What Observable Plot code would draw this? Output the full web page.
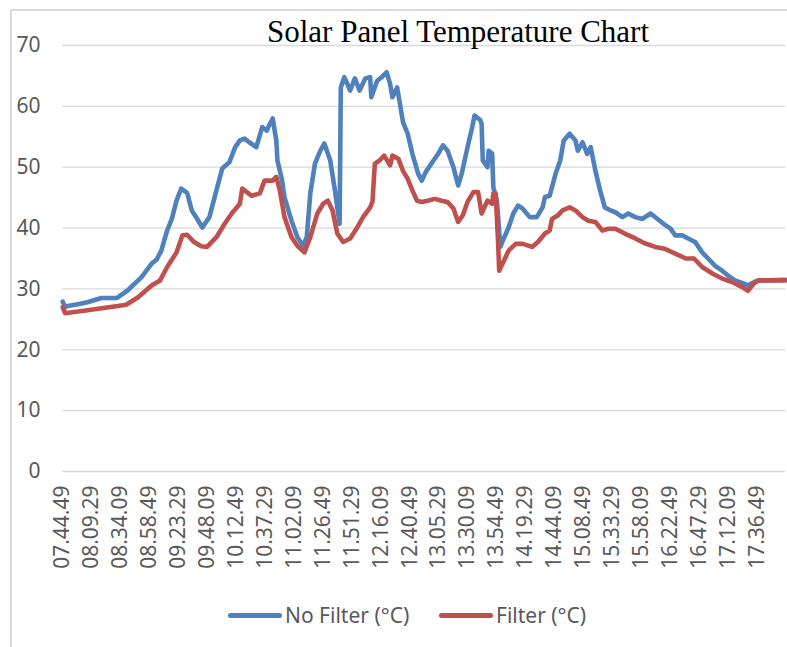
<!DOCTYPE html>
<html>
<head>
<meta charset="utf-8">
<script src="https://cdn.jsdelivr.net/npm/d3@7"></script>
<script src="https://cdn.jsdelivr.net/npm/@observablehq/plot@0.6"></script>
<style>
  html, body { margin: 0; padding: 0; background: #fff; }
  #wrap { position: relative; width: 787px; height: 647px; overflow: hidden; background: #fff; }
  #frame { position: absolute; left: 10px; top: 9px; width: 820px; height: 700px; border: 2px solid #d9d9d9; box-sizing: border-box; }
  #chart { position: absolute; left: 0; top: 0; }
  #title { position: absolute; left: 0; width: 916px; top: 14px; text-align: center; font-family: "Liberation Serif", "Times New Roman", serif; font-size: 31px; color: #000; white-space: nowrap; }
  #legend { position: absolute; top: 600px; left: 0; width: 787px; height: 30px; font-family: "Noto Sans", sans-serif; font-size: 21px; color: #595959; }
  .item { position: absolute; top: 0; display: flex; align-items: center; height: 30px; white-space: nowrap; }
  .sw { width: 54px; height: 5px; border-radius: 3px; margin-right: 3px; }
</style>
</head>
<body>
<div id="wrap">
  <div id="frame"></div>
  <div id="chart"></div>
  <div id="title">Solar Panel Temperature Chart</div>
  <div id="legend"></div>
</div>
<script>
// ---- Data ----
const seriesNames = ["No Filter (°C)", "Filter (°C)"];
const seriesColors = ["#4F81BD", "#C0504D"];

const tickLabels = ["07.44.49","08.09.29","08.34.09","08.58.49","09.23.29","09.48.09","10.12.49","10.37.29","11.02.09","11.26.49","11.51.29","12.16.09","12.40.49","13.05.29","13.30.09","13.54.49","14.19.29","14.44.09","15.08.49","15.33.29","15.58.09","16.22.49","16.47.29","17.12.09","17.36.49"];

const yTicks = [0, 10, 20, 30, 40, 50, 60, 70];

const timeNoFilter = ["07:45","07:47","07:49","07:58","08:06","08:18","08:31","08:40","08:52","09:01","09:05","09:09","09:14","09:18","09:22","09:26","09:31","09:35","09:39","09:44","09:50","09:56","10:01","10:07","10:12","10:16","10:20","10:24","10:30","10:35","10:39","10:41","10:44","10:47","10:48","10:52","10:54","11:00","11:05","11:10","11:13","11:16","11:20","11:24","11:28","11:33","11:37","11:41","11:42","11:45","11:50","11:54","11:58","12:03","12:07","12:08","12:13","12:17","12:21","12:24","12:26","12:30","12:32","12:35","12:39","12:43","12:48","12:51","12:55","13:01","13:05","13:09","13:13","13:18","13:22","13:25","13:30","13:34","13:36","13:41","13:42","13:43","13:47","13:48","13:51","13:52","13:55","13:58","14:00","14:05","14:09","14:13","14:17","14:23","14:29","14:34","14:36","14:40","14:45","14:49","14:52","14:57","15:02","15:04","15:08","15:12","15:15","15:19","15:23","15:27","15:32","15:36","15:42","15:47","15:53","15:59","16:06","16:12","16:17","16:23","16:27","16:33","16:38","16:44","16:50","16:55","17:01","17:07","17:12","17:18","17:25","17:29","17:34","17:38","17:46","18:01"];
const noFilter = [27.9,27.0,27.2,27.5,27.8,28.5,28.5,29.7,31.9,34.2,34.8,36.3,39.6,41.5,44.5,46.5,45.8,42.9,41.7,40.1,41.8,46.2,49.8,50.8,53.3,54.4,54.7,54.1,53.3,56.6,56.0,56.9,58.0,54.4,51.1,47.8,45.1,41.2,38.5,37.1,38.5,45.7,50.6,52.5,53.9,51.1,46.2,40.7,63.1,64.8,62.6,64.6,62.6,64.6,64.8,61.5,64.2,64.8,65.6,63.7,61.5,63.1,60.9,57.4,55.5,52.2,48.9,47.8,49.4,51.1,52.2,53.6,52.7,50.0,47.0,48.9,53.3,56.6,58.5,57.7,57.1,51.1,50.0,52.7,52.2,46.7,44.5,36.9,37.9,40.1,42.4,43.7,43.2,41.8,41.8,43.4,45.1,45.3,48.9,51.1,54.4,55.5,54.4,52.7,54.1,52.2,53.3,49.4,46.2,43.4,42.9,42.6,41.8,42.4,41.8,41.5,42.4,41.5,40.7,39.9,38.8,38.8,38.3,37.7,36.0,35.0,33.8,33.0,32.2,31.4,30.9,30.6,31.1,31.4,31.4,31.5];

const timeFilter = ["07:45","07:47","08:06","08:29","08:39","08:49","09:01","09:08","09:14","09:22","09:27","09:31","09:37","09:43","09:48","09:56","10:03","10:09","10:16","10:18","10:26","10:33","10:37","10:44","10:47","10:50","10:54","11:00","11:05","11:11","11:16","11:22","11:27","11:31","11:35","11:39","11:44","11:50","11:56","12:01","12:07","12:09","12:11","12:15","12:19","12:24","12:26","12:31","12:35","12:39","12:43","12:47","12:51","12:56","13:02","13:08","13:13","13:18","13:22","13:26","13:30","13:35","13:39","13:42","13:47","13:51","13:52","13:54","13:56","13:57","14:00","14:05","14:11","14:17","14:25","14:30","14:36","14:40","14:42","14:47","14:51","14:57","15:02","15:08","15:13","15:19","15:25","15:30","15:36","15:44","15:53","16:01","16:10","16:18","16:27","16:36","16:43","16:50","16:59","17:07","17:16","17:24","17:29","17:34","17:38","18:01"];
const filter = [27.0,26.0,26.5,27.1,27.4,28.6,30.6,31.4,33.6,36.0,38.8,38.9,37.7,37.0,36.9,38.5,40.7,42.4,44.0,46.5,45.3,45.7,47.8,47.8,48.4,46.2,41.8,38.5,37.1,36.0,38.5,42.4,44.0,44.5,42.9,39.1,37.7,38.3,40.1,41.8,43.4,44.3,50.6,51.1,51.9,50.3,51.9,51.4,49.4,48.1,46.2,44.5,44.3,44.5,44.8,44.5,44.3,43.2,41.0,42.1,44.3,45.9,45.9,42.4,44.5,44.0,45.7,45.7,37.9,33.0,34.2,36.3,37.4,37.4,36.9,37.7,39.1,39.6,41.5,42.1,42.9,43.4,42.9,41.8,41.2,41.0,39.6,39.9,39.9,39.1,38.3,37.5,36.9,36.6,35.8,35.0,35.0,33.6,32.5,31.7,31.1,30.3,29.7,30.9,31.4,31.4];

// ---- Build tables ----
const parseHM = s => { const [h, m] = s.split(":").map(Number); return new Date(Date.UTC(2020, 0, 1, h, m)); };
const parseTick = s => { const [h, m, sec] = s.split(".").map(Number); return new Date(Date.UTC(2020, 0, 1, h, m, sec)); };

const rowsA = timeNoFilter.map((t, i) => ({t: parseHM(t), v: noFilter[i]}));
const rowsB = timeFilter.map((t, i) => ({t: parseHM(t), v: filter[i]}));
const tickDates = tickLabels.map(parseTick);
const fmt = d3.utcFormat("%H.%M.%S");

const plot = Plot.plot({
  width: 787,
  height: 590,
  marginLeft: 62,
  marginRight: 2,
  marginTop: 45,
  marginBottom: 119,
  style: {fontFamily: "'Noto Sans', sans-serif", fontSize: "21px", background: "transparent", overflow: "visible"},
  x: {type: "utc", domain: [parseTick("07.44.49"), parseHM("18:01")]},
  y: {domain: [0, 70]},
  marks: [
    Plot.ruleY(yTicks, {stroke: "#d9d9d9", strokeWidth: 1.3}),
    Plot.axisY(yTicks, {tickSize: 0, tickPadding: 22, fill: "#595959", label: null}),
    Plot.axisX(tickDates, {tickSize: 0, tickPadding: 14, tickRotate: -90, fill: "#595959", label: null, tickFormat: fmt}),
    Plot.line(rowsA, {x: "t", y: "v", stroke: seriesColors[0], strokeWidth: 4.6, strokeLinejoin: "round", strokeLinecap: "round"}),
    Plot.line(rowsB, {x: "t", y: "v", stroke: seriesColors[1], strokeWidth: 4.6, strokeLinejoin: "round", strokeLinecap: "round"})
  ]
});
document.getElementById("chart").appendChild(plot);

// ---- Legend ----
const legend = document.getElementById("legend");
const lefts = [228, 439];
seriesNames.forEach((name, i) => {
  const it = document.createElement("div");
  it.className = "item";
  it.style.left = lefts[i] + "px";
  const sw = document.createElement("span");
  sw.className = "sw";
  sw.style.background = seriesColors[i];
  const tx = document.createElement("span");
  tx.textContent = name;
  it.appendChild(sw);
  it.appendChild(tx);
  legend.appendChild(it);
});
</script>
</body>
</html>
